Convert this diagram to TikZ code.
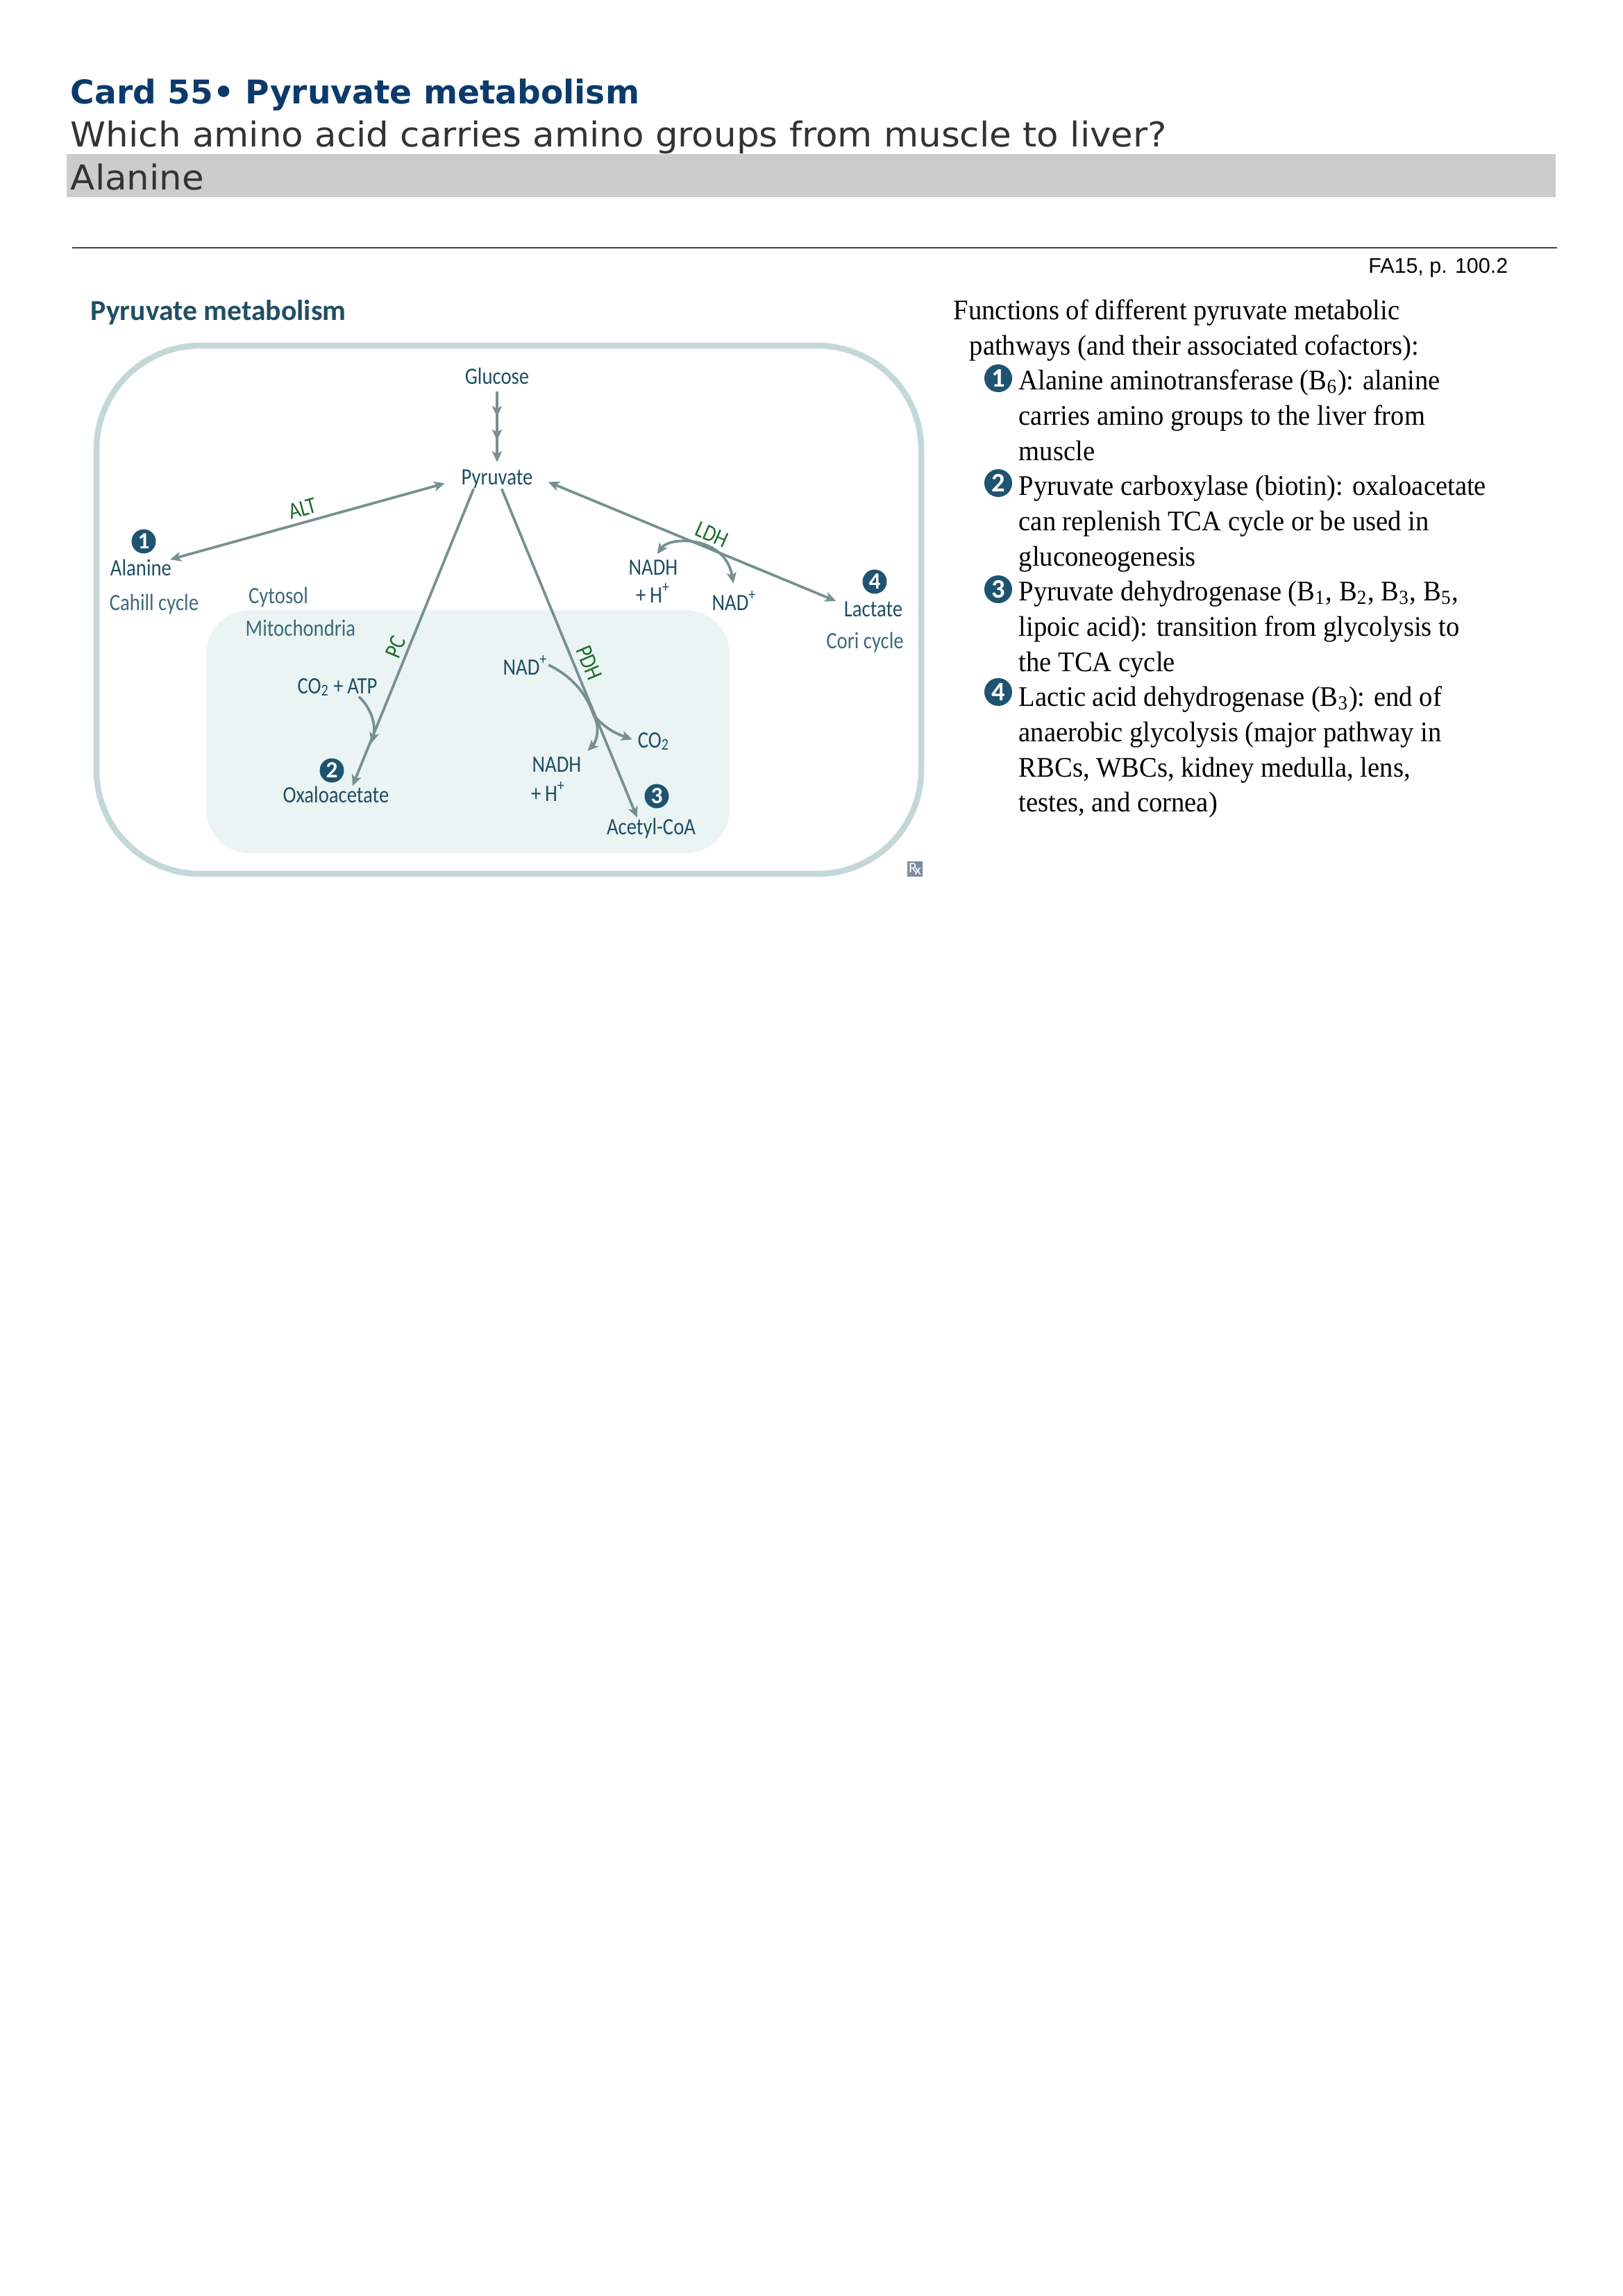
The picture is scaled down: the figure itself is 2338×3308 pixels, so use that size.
\documentclass[tikz,border=0pt]{standalone}
\usepackage{fontspec}
\usetikzlibrary{arrows.meta,decorations.markings}
\setmainfont[FakeStretch=0.945]{Liberation Serif}
\newfontfamily\headfont{DejaVu Sans}
\newfontfamily\widefont[FakeStretch=1.045]{DejaVu Sans}
\newfontfamily\refsfont{Liberation Sans}
\newfontfamily\lblfont[FakeStretch=0.85]{Carlito}
\newfontfamily\numfont{Carlito}
\definecolor{titleblue}{HTML}{0B3A6B}
\definecolor{framecol}{HTML}{C5D8D8}
\definecolor{mitocol}{HTML}{EAF4F3}
\definecolor{arrowcol}{HTML}{76908F}
\definecolor{labelcol}{HTML}{1F4E63}
\definecolor{cyclecol}{HTML}{3D6A7A}
\definecolor{enzcol}{HTML}{1E6B2E}
\definecolor{dotcol}{HTML}{1E5470}
\definecolor{rxcol}{HTML}{7A8CA0}

\begin{document}
\begin{tikzpicture}[%
      x=0.2546pt,y=-0.2546pt,
      >={Stealth[length=4pt,width=3.6pt,inset=1pt]},
      conn/.style={draw=arrowcol,line width=0.95pt},
      lbl/.style={inner sep=0pt,text=labelcol,font=\lblfont\fontsize{8.6}{8.6}\selectfont},
      cyc/.style={inner sep=0pt,text=cyclecol,font=\lblfont\fontsize{8.6}{8.6}\selectfont},
      enz/.style={inner sep=0pt,text=enzcol,font=\lblfont\fontsize{8.6}{8.6}\selectfont},
      numdot/.style={circle,fill=dotcol,inner sep=0pt,minimum size=8.9pt,text=white,font=\numfont\bfseries\fontsize{8.5}{8.5}\selectfont},
      numbig/.style={circle,fill=dotcol,inner sep=0pt,minimum size=10.2pt,text=white,font=\numfont\bfseries\fontsize{9.8}{9.8}\selectfont},
      head/.style={anchor=base west,inner sep=0pt,font=\widefont\fontsize{12.55}{12.55}\selectfont},
      txt/.style={anchor=base west,inner sep=0pt,font=\fontsize{10.4}{10.4}\selectfont},
      ]
      \useasboundingbox (0,0) rectangle (2338,3308);

      \fill [color=black!20] (96,222) rectangle (2241,284);
      \draw [color=black!75,line width=0.4pt] (104,357) -- (2243,357);
      \draw [color=framecol,line width=2.2pt,rounded corners=38pt] (139,498) rectangle (1327,1259);
      \fill [color=mitocol,rounded corners=16pt] (297,879) rectangle (1051,1229);

      \node[head,text=titleblue,font=\headfont\bfseries\fontsize{12}{12}\selectfont] (title) at (101,149) {Card 55\textbullet\ Pyruvate metabolism};
      \node[head,text=black!80] (question) at (101,211) {Which amino acid carries amino groups from muscle to liver?};
      \node[head,text=black!80] (answer) at (101,273) {Alanine};
      \node[anchor=base east,inner sep=0pt,font=\refsfont\fontsize{7.75}{7.75}\selectfont] (pageref) at (2173,393) {FA15, p. 100.2};

      \node[anchor=base west,inner sep=0pt,text=labelcol,font=\numfont\bfseries\fontsize{10.6}{10.6}\selectfont] (figtitle) at (130,461) {Pyruvate metabolism};

      \node[lbl] (glucose) at (716,542) {Glucose};
      \node[lbl] (pyruvate) at (716,690) {Pyruvate};
      \node[lbl] (alanine) at (203,818) {Alanine};
      \node[lbl] (lactate) at (1258,878) {Lactate};
      \node[lbl] (oxalo) at (484,1145) {Oxaloacetate};
      \node[lbl] (acetyl) at (938,1193) {Acetyl-CoA};
      \node[lbl] (co2atp) at (486,990) {CO\textsubscript{2}\,+\,ATP};
      \node[lbl] (nadleft) at (757,958) {NAD\textsuperscript{+}};
      \node[lbl] (nadhmito) at (802,1102) {NADH};
      \node[lbl] (hmito) at (790,1140) {+\,H\textsuperscript{+}};
      \node[lbl] (co2out) at (942,1068) {CO\textsubscript{2}};
      \node[lbl] (nadhtop) at (941,818) {NADH};
      \node[lbl] (htop) at (941,854) {+\,H\textsuperscript{+}};
      \node[lbl] (nadright) at (1058,865) {NAD\textsuperscript{+}};

      \node[cyc] (cahill) at (222,870) {Cahill cycle};
      \node[cyc] (cori) at (1246,925) {Cori cycle};
      \node[cyc] (cytosol) at (401,860) {Cytosol};
      \node[cyc] (mito) at (433,905) {Mitochondria};

      \node[enz,rotate=15.5] (alt) at (436,733) {ALT};
      \node[enz,rotate=-24] (ldh) at (1026,770) {LDH};
      \node[enz,rotate=67] (pc) at (570,932) {PC};
      \node[enz,rotate=-67] (pdh) at (849,955) {PDH};

      \node[numdot] (one) at (207,780) {1};
      \node[numdot] (two) at (478,1110) {2};
      \node[numdot] (three) at (946,1147) {3};
      \node[numdot] (four) at (1260,838) {4};

      \node[inner sep=0pt,fill=rxcol,minimum size=5.6pt,text=white,font=\numfont\fontsize{5.5}{5.5}\selectfont] (rx) at (1318,1252) {R\kern-0.8pt\raisebox{-0.9pt}{x}};

      \draw[conn,->,shorten <=2.5pt,shorten >=2.5pt,postaction={decorate},
        decoration={markings,mark=at position 0.38 with {\arrow{>}},mark=at position 0.66 with {\arrow{>}}}]
        (glucose.south) -- (pyruvate.north);
      \draw[conn,<->,shorten <=6.1pt,shorten >=-0.7pt] (pyruvate.west) -- (alanine.north east);
      \draw[conn,<->,shorten <=6pt,shorten >=3pt] (pyruvate.5) -- (lactate.170);
      \draw[conn,->,shorten <=0pt,shorten >=0pt] (pyruvate.203) -- (oxalo.28);
      \draw[conn,->,shorten <=0pt,shorten >=0pt] (pyruvate.295) -- (acetyl.143);

      \coordinate (pcjoin) at (535,1071);
      \coordinate (pdhjoin) at (855,1030);
      \draw[conn,->] (co2atp.-24) .. controls (535,1020) and (542,1045) .. (pcjoin);
      \draw[conn] (nadleft.east) .. controls (825,975) and (845,1000) .. (pdhjoin);
      \draw[conn,->,shorten >=3pt] (pdhjoin) .. controls (866,1050) and (858,1070) .. (nadhmito.north east);
      \draw[conn,->,shorten >=2pt] (pdhjoin) .. controls (870,1048) and (885,1056) .. (co2out.west);
      \draw[conn,<->,shorten <=2.5pt,shorten >=2.5pt] (nadhtop.north) .. controls (965,772) and (1045,772) .. (nadright.north);

      \node[txt] (fn1) at (1373,460) {Functions of different pyruvate metabolic};
      \node[txt] (fn2) at (1396,511) {pathways (and their associated cofactors):};
      \node[numbig] (item1) at (1438,545) {1};
      \node[txt] (a1) at (1467,561) {Alanine aminotransferase (B\textsubscript{6}): alanine};
      \node[txt] (a2) at (1467,612) {carries amino groups to the liver from};
      \node[txt] (a3) at (1467,663) {muscle};
      \node[numbig] (item2) at (1438,696) {2};
      \node[txt] (b1) at (1467,713) {Pyruvate carboxylase (biotin): oxaloacetate};
      \node[txt] (b2) at (1467,764) {can replenish TCA cycle or be used in};
      \node[txt] (b3) at (1467,815) {gluconeogenesis};
      \node[numbig] (item3) at (1438,849) {3};
      \node[txt] (c1) at (1467,865) {Pyruvate dehydrogenase (B\textsubscript{1}, B\textsubscript{2}, B\textsubscript{3}, B\textsubscript{5},};
      \node[txt] (c2) at (1467,916) {lipoic acid): transition from glycolysis to};
      \node[txt] (c3) at (1467,967) {the TCA cycle};
      \node[numbig] (item4) at (1438,997) {4};
      \node[txt] (d1) at (1467,1017) {Lactic acid dehydrogenase (B\textsubscript{3}): end of};
      \node[txt] (d2) at (1467,1068) {anaerobic glycolysis (major pathway in};
      \node[txt] (d3) at (1467,1119) {RBCs, WBCs, kidney medulla, lens,};
      \node[txt] (d4) at (1467,1169) {testes, and cornea)};
      \end{tikzpicture}
\end{document}
